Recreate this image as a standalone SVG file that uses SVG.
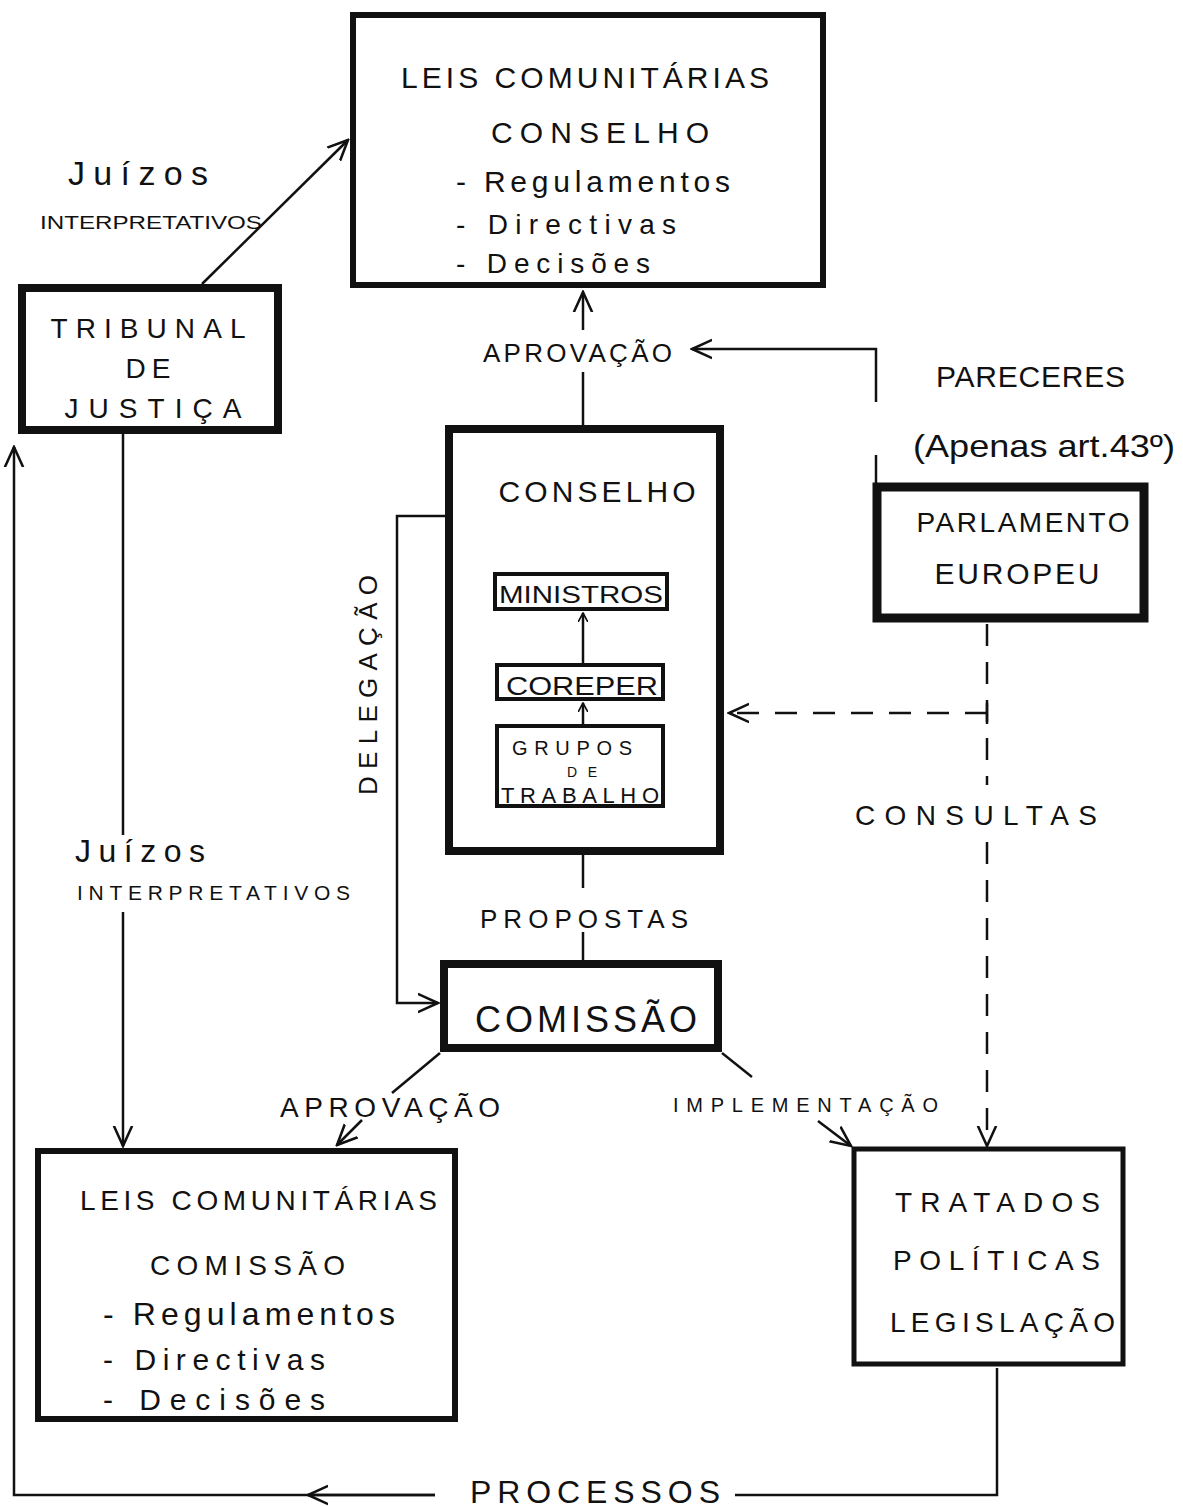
<svg xmlns="http://www.w3.org/2000/svg" width="1183" height="1507" viewBox="0 0 1183 1507">
<style>
text{font-family:"Liberation Sans","DejaVu Sans",sans-serif;fill:#111}
.box{fill:#fff;stroke:#111}
.c{fill:none;stroke:#111;stroke-width:2.5}
.d{fill:none;stroke:#111;stroke-width:2.5;stroke-dasharray:22 16}
.m{text-anchor:middle}
</style>
<defs>
<marker id="a" viewBox="0 0 12 12" refX="11" refY="6" markerWidth="10" markerHeight="10" markerUnits="userSpaceOnUse" orient="auto">
<path d="M0,0 L11,6 L0,12" fill="none" stroke="#111" stroke-width="2"/>
</marker>
<marker id="b" viewBox="0 0 12 12" refX="11" refY="6" markerWidth="22" markerHeight="22" markerUnits="userSpaceOnUse" orient="auto">
<path d="M0,1 L11,6 L0,11" fill="none" stroke="#111" stroke-width="1.4"/>
</marker>
</defs>
<rect width="1183" height="1507" fill="#fff"/>

<g id="leis-conselho">
<rect class="box" x="353" y="15" width="470" height="270" stroke-width="6"/>
<text class="m" x="585" y="88" font-size="30" textLength="368" lengthAdjust="spacing">LEIS COMUNITÁRIAS</text>
<text class="m" x="600" y="143" font-size="30" textLength="218" lengthAdjust="spacing">CONSELHO</text>
<text x="456" y="192" font-size="30" textLength="274" lengthAdjust="spacing">- Regulamentos</text>
<text x="456" y="234" font-size="28" textLength="220" lengthAdjust="spacing">- Directivas</text>
<text x="456" y="273" font-size="28" textLength="194" lengthAdjust="spacing">- Decisões</text>
</g>

<g id="label-juizos-1">
<text x="68" y="185" font-size="34" textLength="140" lengthAdjust="spacing">Juízos</text>
<text x="40" y="229" font-size="19" textLength="222" lengthAdjust="spacingAndGlyphs">INTERPRETATIVOS</text>
</g>

<g id="tribunal">
<rect class="box" x="22" y="288" width="256" height="142" stroke-width="8"/>
<text class="m" x="148" y="338" font-size="28" textLength="195" lengthAdjust="spacing">TRIBUNAL</text>
<text class="m" x="148" y="378" font-size="28" textLength="45" lengthAdjust="spacing">DE</text>
<text class="m" x="153" y="418" font-size="28" textLength="177" lengthAdjust="spacing">JUSTIÇA</text>
</g>

<g id="label-aprovacao-1">
<text x="483" y="362" font-size="26" textLength="189" lengthAdjust="spacing">APROVAÇÃO</text>
</g>

<g id="label-pareceres">
<text x="936" y="387" font-size="30" textLength="189" lengthAdjust="spacing">PARECERES</text>
<text x="913" y="457" font-size="32" textLength="262" lengthAdjust="spacingAndGlyphs">(Apenas art.43º)</text>
</g>

<g id="conselho">
<rect class="box" x="449" y="429" width="271" height="422" stroke-width="8"/>
<text class="m" x="597" y="502" font-size="30" textLength="197" lengthAdjust="spacing">CONSELHO</text>
</g>

<g id="ministros">
<rect class="box" x="495" y="574" width="172" height="35" stroke-width="4"/>
<text class="m" x="581" y="603" font-size="24" textLength="164" lengthAdjust="spacingAndGlyphs">MINISTROS</text>
</g>

<g id="coreper">
<rect class="box" x="497" y="665" width="166" height="34" stroke-width="4"/>
<text class="m" x="582" y="695" font-size="26" textLength="152" lengthAdjust="spacingAndGlyphs">COREPER</text>
</g>

<g id="grupos">
<rect class="box" x="497" y="726" width="166" height="80" stroke-width="4"/>
<text class="m" x="572" y="755" font-size="20" textLength="120" lengthAdjust="spacing">GRUPOS</text>
<text class="m" x="582" y="777" font-size="14" textLength="30" lengthAdjust="spacing">DE</text>
<text class="m" x="580" y="803" font-size="22" textLength="158" lengthAdjust="spacing">TRABALHO</text>
</g>

<g id="parlamento">
<rect class="box" x="877" y="487" width="267" height="131" stroke-width="9"/>
<text class="m" x="1023" y="532" font-size="28" textLength="213" lengthAdjust="spacing">PARLAMENTO</text>
<text class="m" x="1017" y="584" font-size="30" textLength="165" lengthAdjust="spacing">EUROPEU</text>
</g>

<g id="label-delegacao">
<text class="m" transform="translate(377,685) rotate(-90)" font-size="26" textLength="220" lengthAdjust="spacing">DELEGAÇÃO</text>
</g>

<g id="label-consultas">
<text x="855" y="825" font-size="28" textLength="242" lengthAdjust="spacing">CONSULTAS</text>
</g>

<g id="label-juizos-2">
<text x="75" y="862" font-size="32" textLength="130" lengthAdjust="spacing">Juízos</text>
<text x="77" y="900" font-size="21" textLength="273" lengthAdjust="spacing">INTERPRETATIVOS</text>
</g>

<g id="label-propostas">
<text x="480" y="928" font-size="26" textLength="208" lengthAdjust="spacing">PROPOSTAS</text>
</g>

<g id="comissao">
<rect class="box" x="444" y="964" width="274" height="84" stroke-width="8"/>
<text class="m" x="586" y="1032" font-size="36" textLength="222" lengthAdjust="spacing">COMISSÃO</text>
</g>

<g id="label-aprovacao-2">
<text x="280" y="1117" font-size="28" textLength="220" lengthAdjust="spacing">APROVAÇÃO</text>
</g>

<g id="label-implementacao">
<text x="673" y="1112" font-size="20" textLength="265" lengthAdjust="spacing">IMPLEMENTAÇÃO</text>
</g>

<g id="leis-comissao">
<rect class="box" x="38" y="1151" width="417" height="268" stroke-width="6"/>
<text x="80" y="1210" font-size="28" textLength="357" lengthAdjust="spacing">LEIS COMUNITÁRIAS</text>
<text x="150" y="1275" font-size="28" textLength="195" lengthAdjust="spacing">COMISSÃO</text>
<text x="103" y="1325" font-size="32" textLength="292" lengthAdjust="spacing">- Regulamentos</text>
<text x="103" y="1370" font-size="30" textLength="222" lengthAdjust="spacing">- Directivas</text>
<text x="103" y="1410" font-size="30" textLength="222" lengthAdjust="spacing">- Decisões</text>
</g>

<g id="tratados">
<rect class="box" x="854" y="1149" width="269" height="215" stroke-width="5"/>
<text x="895" y="1212" font-size="28" textLength="205" lengthAdjust="spacing">TRATADOS</text>
<text x="893" y="1270" font-size="28" textLength="207" lengthAdjust="spacing">POLÍTICAS</text>
<text x="890" y="1332" font-size="28" textLength="225" lengthAdjust="spacing">LEGISLAÇÃO</text>
</g>

<g id="label-processos">
<text x="470" y="1503" font-size="32" textLength="250" lengthAdjust="spacing">PROCESSOS</text>
</g>

<g id="connectors">
<line class="c" x1="202" y1="284" x2="348" y2="140" marker-end="url(#b)"/>
<line class="c" x1="583" y1="425" x2="583" y2="372"/>
<line class="c" x1="583" y1="330" x2="583" y2="292" marker-end="url(#b)"/>
<polyline class="c" points="876,402 876,349 692,349" marker-end="url(#b)"/>
<line class="c" x1="876" y1="455" x2="876" y2="483"/>
<line class="c" x1="583" y1="663" x2="583" y2="613" marker-end="url(#a)"/>
<line class="c" x1="583" y1="724" x2="583" y2="703" marker-end="url(#a)"/>
<polyline class="c" points="445,516 397,516 397,1003 438,1003" marker-end="url(#b)"/>
<line class="c" x1="583" y1="855" x2="583" y2="888"/>
<line class="c" x1="583" y1="932" x2="583" y2="960"/>
<line class="c" x1="123" y1="434" x2="123" y2="835"/>
<line class="c" x1="123" y1="912" x2="123" y2="1146" marker-end="url(#b)"/>
<line class="c" x1="440" y1="1053" x2="392" y2="1093"/>
<line class="c" x1="362" y1="1120" x2="337" y2="1145" marker-end="url(#b)"/>
<line class="c" x1="722" y1="1053" x2="752" y2="1077"/>
<line class="c" x1="818" y1="1121" x2="851" y2="1146" marker-end="url(#b)"/>
<line class="d" x1="987" y1="624" x2="987" y2="785"/>
<line class="d" x1="987" y1="842" x2="987" y2="1146" marker-end="url(#b)"/>
<line class="d" x1="987" y1="713" x2="729" y2="713" marker-end="url(#b)"/>
<line class="c" x1="987" y1="703" x2="987" y2="724"/>
<polyline class="c" points="997,1368 997,1495 735,1495"/>
<polyline class="c" points="435,1495 14,1495 14,447" marker-end="url(#b)"/>
<polyline class="c" points="435,1495 308,1495" marker-end="url(#b)"/>
</g>
</svg>
